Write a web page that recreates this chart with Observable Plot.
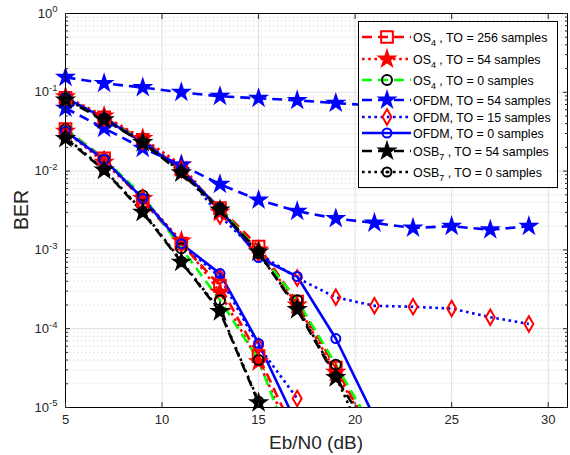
<!DOCTYPE html>
<html><head><meta charset="utf-8">
<script src="https://cdn.jsdelivr.net/npm/d3@7"></script>
<script src="https://cdn.jsdelivr.net/npm/@observablehq/plot@0.6"></script>
<style>
body{margin:0;background:#fff;}
#wrap{position:relative;width:570px;height:455px;font-family:"Liberation Sans",Arial,sans-serif;}
#wrap svg{position:absolute;left:0;top:0;}
</style></head><body><div id="wrap"></div>
<script>
// ---- data ----
const ebn0 = [5,7,9,11,13,15,17,19,21,23,25,27,29];
// upper family
const os4_256_A = [0.085,0.048,0.025,0.0105,0.0034,0.0011,2.2e-4,3.2e-5,4e-6];
const os4_54_A  = [0.088,0.05,0.026,0.012,0.003,0.001,2e-4,2.8e-5,4e-6];
const os4_0_A   = [0.085,0.047,0.024,0.0098,0.0034,9.5e-4,2.3e-4,3.5e-5,5e-6];
const ofdm54_A  = [0.063,0.035,0.0195,0.012,0.0068,0.0043,0.0031,0.0025,0.0022,0.0019,0.002,0.0018,0.002];
const ofdm15_A  = [0.085,0.047,0.024,0.0105,0.0027,9e-4,4.4e-4,2.5e-4,1.95e-4,1.9e-4,1.8e-4,1.4e-4,1.15e-4];
const ofdm0_A   = [0.085,0.047,0.023,0.0105,0.0033,8e-4,4.6e-4,7.5e-5,7.5e-6];
const osb7_54_A = [0.08,0.045,0.023,0.0095,0.0032,9.4e-4,1.75e-4,2.4e-5,4e-6];
const osb7_0_A  = [0.082,0.046,0.023,0.0098,0.0033,9e-4,1.9e-4,2.5e-5,2e-6];
// lower family
const os4_256_B = [0.034,0.0145,0.0042,0.0012,3.5e-4,4.5e-5,4e-6];
const os4_54_B  = [0.032,0.013,0.0045,0.0013,2.9e-4,3.8e-5,3e-6];
const os4_0_B   = [0.034,0.0142,0.0049,0.00105,2.3e-4,4e-5,2e-6];
const ofdm54_B  = [0.155,0.13,0.115,0.1,0.089,0.084,0.079,0.073,0.068,0.064,0.06,0.057,0.055];
const ofdm15_B  = [0.032,0.014,0.0045,0.0012,4.5e-4,6e-5,1.3e-5];
const ofdm0_B   = [0.032,0.014,0.0045,0.0012,5e-4,6.5e-5,6e-6];
const osb7_54_B = [0.026,0.0103,0.003,7e-4,1.65e-4,1.15e-5,2e-7];
const osb7_0_B  = [0.027,0.0105,0.0031,7.2e-4,1.7e-4,1.2e-5,2e-7];

const legendNames = [
  ["OS","4"," , TO = 256 samples"],
  ["OS","4"," , TO = 54 samples"],
  ["OS","4"," , TO = 0 samples"],
  ["OFDM, TO = 54 samples","",""],
  ["OFDM, TO = 15 samples","",""],
  ["OFDM, TO = 0 samples","",""],
  ["OSB","7"," , TO = 54 samples"],
  ["OSB","7"," , TO = 0 samples"]
];
const xTicks = [5,10,15,20,25,30];
const yTicks = [1e-5,1e-4,1e-3,1e-2,1e-1,1];

// ---- styles ----
const DASH = "10,6", DOT = "2.6,3.6";
const styles = [
  {line:"#ff0000", dash:DASH, sym:"square", mStroke:"#ff0000", mFill:"none", r:6.6},
  {line:"#ff0000", dash:DOT,  sym:"star",   mStroke:"#ff0000", mFill:"#ff0000", r:4.8},
  {line:"#00ff00", dash:DASH, sym:"circle", mStroke:"#000000", mFill:"none", r:5},
  {line:"#0000ff", dash:DASH, sym:"star",   mStroke:"#0000ff", mFill:"#0000ff", r:4.7},
  {line:"#0000ff", dash:DOT,  sym:"diamond",mStroke:"#ff0000", mFill:"none", r:4.7},
  {line:"#0000ff", dash:null, sym:"circle", mStroke:"#0000ff", mFill:"none", r:4.5},
  {line:"#000000", dash:DASH, sym:"star",   mStroke:"#000000", mFill:"#000000", r:4.8},
  {line:"#000000", dash:DOT,  sym:"circle", mStroke:"#000000", mFill:"none", r:4.5, inner:true}
];
const groups = [
  [os4_256_A, os4_256_B],
  [os4_54_A, os4_54_B],
  [os4_0_A, os4_0_B],
  [ofdm54_A, ofdm54_B],
  [ofdm15_A, ofdm15_B],
  [ofdm0_A, ofdm0_B],
  [osb7_54_A, osb7_54_B],
  [osb7_0_A, osb7_0_B]
];
const toRows = arr => arr.map((v,i) => ({x: ebn0[i], y: v}));

const minorY = [];
for (let e=-5; e<0; e++) for (let k=2; k<=9; k++) minorY.push(k*Math.pow(10,e));

const marks = [
  Plot.gridY(minorY, {stroke:"#c4c4c4", strokeOpacity:1, strokeDasharray:"1,3", strokeWidth:0.8}),
  Plot.gridX(xTicks.slice(1), {stroke:"#e0e0e0", strokeOpacity:1, strokeWidth:1}),
  Plot.gridY(yTicks.slice(1,-1), {stroke:"#e0e0e0", strokeOpacity:1, strokeWidth:1}),
];
styles.forEach((s, i) => {
  groups[i].forEach(arr => {
    const rows = toRows(arr);
    marks.push(Plot.line(rows, {x:"x", y:"y", stroke:s.line, strokeWidth:2.6, strokeDasharray:s.dash || undefined, strokeLinecap:"butt", strokeLinejoin:"round", clip:true}));
  });
});
styles.forEach((s, i) => {
  groups[i].forEach(arr => {
    const rows = toRows(arr).filter(d => d.y >= 1e-5 && d.y <= 1);
    marks.push(Plot.dot(rows, {x:"x", y:"y", symbol:s.sym, r:s.r, stroke:s.mStroke, fill:s.mFill, strokeWidth:2}));
    if (s.inner) marks.push(Plot.dot(rows, {x:"x", y:"y", r:1.6, fill:"#000", stroke:"none"}));
  });
});
marks.push(
  Plot.frame({stroke:"#000", strokeWidth:1}),
  Plot.axisX({anchor:"bottom", ticks:xTicks, tickSize:0, tickPadding:7, label:null, fontSize:13}),
  Plot.axisX({anchor:"bottom", ticks:xTicks, tickSize:-5, tickFormat:()=>"", label:null}),
  Plot.axisX({anchor:"top", ticks:xTicks, tickSize:-5, tickFormat:()=>"", label:null}),
  Plot.axisY({anchor:"left", ticks:yTicks, tickSize:0, tickPadding:8, label:null, fontSize:13,
    tickFormat: d => "10|" + Math.round(Math.log10(d))}),
  Plot.axisY({anchor:"left", ticks:yTicks, tickSize:-5, tickFormat:()=>"", label:null}),
  Plot.axisY({anchor:"right", ticks:yTicks, tickSize:-5, tickFormat:()=>"", label:null}),
  Plot.axisY({anchor:"left", ticks:minorY, tickSize:-3, tickFormat:()=>"", label:null}),
  Plot.axisY({anchor:"right", ticks:minorY, tickSize:-3, tickFormat:()=>"", label:null})
);

const chart = Plot.plot({
  width:570, height:455,
  marginLeft:65, marginRight:3, marginTop:13, marginBottom:48,
  style:{fontFamily:'"Liberation Sans", Arial, sans-serif', color:"#262626", background:"white", overflow:"visible"},
  x:{domain:[5,31]},
  y:{type:"log", domain:[1e-5,1]},
  marks
});
document.getElementById("wrap").appendChild(chart);

// superscript exponents on y tick labels
d3.select(chart).selectAll("text").each(function(){
  const t = this.textContent;
  if (t.startsWith("10|")) {
    const e = t.split("|")[1];
    const sel = d3.select(this);
    sel.text("10");
    sel.append("tspan").attr("dy","-0.55em").attr("font-size","9.5px").text(e);
  }
});
// axis titles
const svg = d3.select(chart);
svg.append("text").attr("x", 316).attr("y", 449).attr("text-anchor","middle")
  .attr("font-size", 19).attr("fill","#262626").text("Eb/N0 (dB)");
svg.append("text").attr("transform","translate(28,210) rotate(-90)").attr("text-anchor","middle")
  .attr("font-size", 19.5).attr("fill","#262626").text("BER");

// legend
const lg = d3.select("#wrap").append("svg").attr("width",570).attr("height",455)
  .style("pointer-events","none");
lg.append("rect").attr("x",358.5).attr("y",21.5).attr("width",199).attr("height",166)
  .attr("fill","white").attr("stroke","#000").attr("stroke-width",1);
const rowY = [37, 59, 80, 100, 117, 133, 151, 172];
const symMap = {square:d3.symbolSquare, star:d3.symbolStar, circle:d3.symbolCircle, diamond:d3.symbolDiamond};
styles.forEach((s, i) => {
  const y = rowY[i];
  const g = lg.append("g");
  g.append("line").attr("x1",362).attr("x2",411).attr("y1",y).attr("y2",y)
    .attr("stroke",s.line).attr("stroke-width",2.6).attr("stroke-dasharray", s.dash ? (s.dash===DASH ? "10,6" : DOT) : null);
  g.append("path").attr("transform",`translate(387,${y})`)
    .attr("d", d3.symbol(symMap[s.sym], s.r*s.r*Math.PI)())
    .attr("fill", s.mFill).attr("stroke", s.mStroke).attr("stroke-width",2);
  if (s.inner) g.append("circle").attr("cx",387).attr("cy",y).attr("r",1.6).attr("fill","#000");
  const nm = legendNames[i];
  const t = g.append("text").attr("x",413).attr("y",y+5).attr("font-size",12.4).attr("fill","#000");
  t.append("tspan").text(nm[0]);
  if (nm[1]) {
    t.append("tspan").attr("dy",4).attr("font-size",9).text(nm[1]);
    t.append("tspan").attr("dy",-4).text(nm[2]);
  }
});
</script></body></html>
